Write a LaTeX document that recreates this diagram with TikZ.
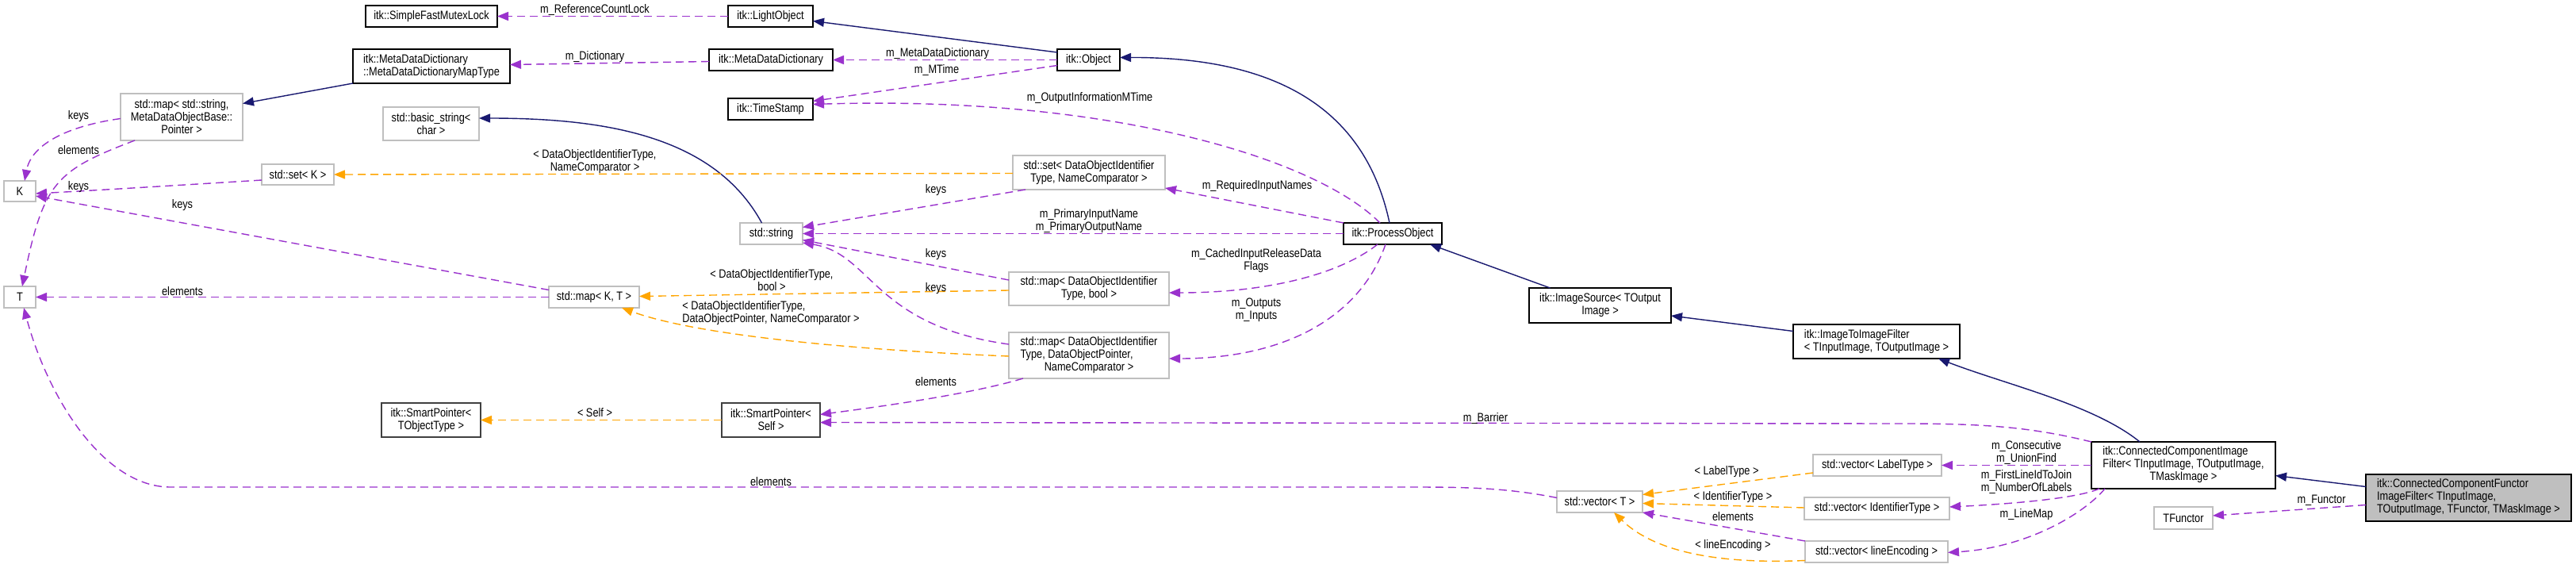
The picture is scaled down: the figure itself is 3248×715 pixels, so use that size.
\documentclass[tikz,border=0pt]{standalone}
\usepackage{fontspec}
\setmainfont{Liberation Sans}[FakeStretch=0.84]
\usetikzlibrary{arrows.meta,calc}
\definecolor{inhblue}{HTML}{191970}
\definecolor{usepurple}{HTML}{9A32CD}
\definecolor{tplorange}{HTML}{FFA500}
\definecolor{graybd}{HTML}{BFBFBF}
\definecolor{darkbd}{HTML}{404040}
\definecolor{hlfill}{HTML}{BFBFBF}
\begin{document}
\begin{tikzpicture}[x=1pt,y=-1pt,
  every node/.style={font=\fontsize{15.2}{16}\selectfont, inner sep=0pt, outer sep=0pt},
  docbox/.style={draw=black, line width=1.4pt, fill=white, rectangle},
  extbox/.style={draw=graybd, line width=1.4pt, fill=white, rectangle},
  spbox/.style={draw=darkbd, line width=1.4pt, fill=white, rectangle},
  hlbox/.style={draw=black, line width=1.4pt, fill=hlfill, rectangle},
  lbl/.style={align=center},
  inhedge/.style={draw=inhblue, line width=1.4pt, -{Triangle[length=14pt,width=11pt]}},
  useedge/.style={draw=usepurple, line width=1.4pt, dash pattern=on 10pt off 6pt, -{Triangle[length=14pt,width=11pt]}},
  tpledge/.style={draw=tplorange, line width=1.4pt, dash pattern=on 10pt off 6pt, -{Triangle[length=14pt,width=11pt]}}
]
\useasboundingbox[fill=white] (0,0) rectangle (3248,715);

% ---------- nodes ----------
\node[docbox, minimum width=166pt, minimum height=27pt] (sfml) at (544,20.5) {itk::SimpleFastMutexLock};
\node[docbox, minimum width=198pt, minimum height=43pt, align=left] (mapType) at (544,83.5) {itk::MetaDataDictionary\\::MetaDataDictionaryMapType};
\node[extbox, minimum width=154pt, minimum height=59pt, align=center] (mapStr) at (229,147.5) {std::map< std::string,\\MetaDataObjectBase::\\Pointer >};
\node[extbox, minimum width=121pt, minimum height=42pt, align=center] (basicStr) at (543.5,156) {std::basic\_string<\\char >};
\node[extbox, minimum width=91pt, minimum height=26pt] (setK) at (375.5,220) {std::set< K >};
\node[extbox, minimum width=40pt, minimum height=26pt] (K) at (25,241) {K};
\node[extbox, minimum width=40pt, minimum height=27pt] (T) at (25,374.5) {T};
\node[spbox, minimum width=125pt, minimum height=43pt, align=center] (spT) at (543.5,529.5) {itk::SmartPointer<\\TObjectType >};
\node[extbox, minimum width=114pt, minimum height=27pt] (mapKT) at (749,374.5) {std::map< K, T >};
\node[docbox, minimum width=107pt, minimum height=27pt] (light) at (971.5,20.5) {itk::LightObject};
\node[docbox, minimum width=156pt, minimum height=27pt] (mdd) at (972,75.5) {itk::MetaDataDictionary};
\node[docbox, minimum width=79pt, minimum height=27pt] (object) at (1372.5,75.5) {itk::Object};
\node[docbox, minimum width=107pt, minimum height=27pt] (timestamp) at (971.5,137.5) {itk::TimeStamp};
\node[extbox, minimum width=79pt, minimum height=27pt] (string) at (972.5,294.5) {std::string};
\node[extbox, minimum width=192pt, minimum height=43pt, align=center] (setDO) at (1373,217.5) {std::set< DataObjectIdentifier\\Type, NameComparator >};
\node[extbox, minimum width=202pt, minimum height=42pt, align=center] (mapBool) at (1373,364) {std::map< DataObjectIdentifier\\Type, bool >};
\node[extbox, minimum width=202pt, minimum height=58pt] (mapPtr) at (1373,448) {\begin{tabular}{@{}l@{}}std::map< DataObjectIdentifier\\Type, DataObjectPointer,\\\multicolumn{1}{@{}c@{}}{NameComparator >}\end{tabular}};
\node[spbox, minimum width=124pt, minimum height=43pt, align=center] (spSelf) at (972,529.5) {itk::SmartPointer<\\Self >};
\node[docbox, minimum width=124pt, minimum height=27pt] (process) at (1756,294.5) {itk::ProcessObject};
\node[docbox, minimum width=179pt, minimum height=44pt, align=center] (imgSrc) at (2017.5,385) {itk::ImageSource< TOutput\\Image >};
\node[extbox, minimum width=108pt, minimum height=27pt] (vecT) at (2017,632.5) {std::vector< T >};
\node[docbox, minimum width=210pt, minimum height=43pt, align=left] (i2i) at (2366,430.5) {itk::ImageToImageFilter\\< TInputImage, TOutputImage >};
\node[docbox, minimum width=232pt, minimum height=59pt] (ccif) at (2753,586.5) {\begin{tabular}{@{}l@{}}itk::ConnectedComponentImage\\Filter< TInputImage, TOutputImage,\\\multicolumn{1}{@{}c@{}}{TMaskImage >}\end{tabular}};
\node[hlbox, minimum width=259pt, minimum height=59pt] (ccfif) at (3112.5,627.5) {\begin{tabular}{@{}l@{}}itk::ConnectedComponentFunctor\\ImageFilter< TInputImage,\\\multicolumn{1}{@{}c@{}}{TOutputImage, TFunctor, TMaskImage >}\end{tabular}};
\node[extbox, minimum width=74pt, minimum height=28pt] (tfunctor) at (2753,653) {TFunctor};
\node[extbox, minimum width=162pt, minimum height=27pt] (vecLabel) at (2367,586.5) {std::vector< LabelType >};
\node[extbox, minimum width=183pt, minimum height=28pt] (vecId) at (2366.5,641) {std::vector< IdentifierType >};
\node[extbox, minimum width=180pt, minimum height=27pt] (vecLine) at (2366,695.5) {std::vector< lineEncoding >};

% ---------- inheritance ----------
\draw[inhedge] ($(object.north west)+(0,4)$) -- ($(light.east)+(0,6)$);
\draw[inhedge] ($(process.north)+(-4,0)$) .. controls (1720,130) and (1600,72) .. ($(object.east)+(0,-3)$);
\draw[inhedge] ($(string.north)+(-12,0)$) .. controls (900,170) and (760,149) .. ($(basicStr.east)+(0,-7)$);
\draw[inhedge] (mapType.south west) -- ($(mapStr.east)+(0,-17)$);
\draw[inhedge] ($(imgSrc.north)+(-63,0)$) -- ($(process.south)+(47,0)$);
\draw[inhedge] ($(i2i.west)+(0,-13)$) -- ($(imgSrc.east)+(0,13)$);
\draw[inhedge] ($(ccif.north)+(-55,0)$) .. controls (2640,510) and (2530,485) .. ($(i2i.south)+(78,0)$);
\draw[inhedge] ($(ccfif.west)+(0,-14)$) -- ($(ccif.east)+(0,13)$);

% ---------- usage ----------
\draw[useedge] (light.west) -- (sfml.east);
\draw[useedge] ($(mdd.west)+(0,2)$) -- ($(mapType.east)+(0,-2)$);
\draw[useedge] (object.west) -- (mdd.east);
\draw[useedge] ($(object.west)+(0,7)$) -- ($(timestamp.east)+(0,-10)$);
\draw[useedge] ($(process.north)+(-16,0)$) .. controls (1660,200) and (1400,120) .. ($(timestamp.east)+(0,-6)$);
\draw[useedge] (process.north west) -- ($(setDO.south east)+(0,-2)$);
\draw[useedge] (process.west) -- (string.east);
\draw[useedge] ($(process.south)+(-19,0)$) .. controls (1690,345) and (1600,369) .. ($(mapBool.east)+(0,5)$);
\draw[useedge] ($(process.south)+(-9,0)$) .. controls (1715,400) and (1620,452) .. ($(mapPtr.east)+(0,4)$);
\draw[useedge] ($(setDO.south west)+(16,0)$) -- ($(string.east)+(0,-8)$);
\draw[useedge] ($(mapBool.west)+(0,-11)$) -- ($(string.east)+(0,8)$);
\draw[useedge] ($(mapPtr.west)+(0,-14)$) .. controls (1100,410) and (1100,320) .. ($(string.south east)+(0,-2)$);
\draw[useedge] ($(mapPtr.south west)+(18,0)$) .. controls (1230,495) and (1130,510) .. ($(spSelf.east)+(0,-7)$);
\draw[useedge] (ccif.north west) .. controls (2560,538) and (2500,534) .. (2400,534) -- ($(spSelf.east)+(0,3)$);
\draw[useedge] ($(vecT.west)+(0,-5)$) .. controls (1900,615) and (1850,614) .. (1780,614) -- (215,614) .. controls (130,614) and (60,500) .. ($(T.south)+(5,0)$);
\draw[useedge] (mapKT.west) -- (T.east);
\draw[useedge] ($(mapKT.west)+(0,-9)$) -- ($(K.east)+(0,6)$);
\draw[useedge] ($(setK.west)+(0,7)$) .. controls (250,232) and (120,240) .. ($(K.east)+(0,3)$);
\draw[useedge] ($(mapStr.west)+(0,2)$) .. controls (90,158) and (40,180) .. ($(K.north)+(6,0)$);
\draw[useedge] ($(mapStr.south west)+(18,0)$) .. controls (70,215) and (55,230) .. ($(T.north)+(3,0)$);
\draw[useedge] (ccif.west) -- (vecLabel.east);
\draw[useedge] ($(ccif.south west)+(10,0)$) .. controls (2620,628) and (2540,635) .. ($(vecId.east)+(0,-2)$);
\draw[useedge] ($(ccif.south west)+(17,0)$) .. controls (2630,645) and (2560,690) .. ($(vecLine.east)+(0,1)$);
\draw[useedge] ($(ccfif.west)+(0,9)$) -- ($(tfunctor.east)+(0,-3)$);
\draw[useedge] (vecLine.north west) -- (vecT.south east);

% ---------- template ----------
\draw[tpledge] ($(setDO.west)+(0,1)$) -- (setK.east);
\draw[tpledge] ($(mapBool.west)+(0,2)$) -- ($(mapKT.east)+(0,-1)$);
\draw[tpledge] ($(mapPtr.west)+(0,1)$) .. controls (1050,440) and (870,420) .. ($(mapKT.south east)+(-22,0)$);
\draw[tpledge] (spSelf.west) -- (spT.east);
\draw[tpledge] ($(vecLabel.south west)+(0,-4)$) -- ($(vecT.east)+(0,-9)$);
\draw[tpledge] ($(vecId.west)+(0,-1)$) -- ($(vecT.east)+(0,2)$);
\draw[tpledge] ($(vecLine.west)+(0,11)$) .. controls (2150,712) and (2080,690) .. ($(vecT.south)+(18,0)$);

% ---------- labels ----------
\node[lbl] (l1) at (750,13) {m\_ReferenceCountLock};
\node[lbl] (l2) at (750,72) {m\_Dictionary};
\node[lbl] (l3) at (1182,68) {m\_MetaDataDictionary};
\node[lbl] (l4) at (1181,89) {m\_MTime};
\node[lbl] (l5) at (1374,124) {m\_OutputInformationMTime};
\node[lbl] (l6) at (750,204) {< DataObjectIdentifierType,\\NameComparator >};
\node[lbl] (l7) at (1180,240) {keys};
\node[lbl] (l8) at (1373,279) {m\_PrimaryInputName\\m\_PrimaryOutputName};
\node[lbl] (l9) at (1180,321) {keys};
\node[lbl] (l10) at (973,353) {< DataObjectIdentifierType,\\bool >};
\node[lbl] (l11) at (1180,364) {keys};
\node[align=left] (l12) at (972,395) {< DataObjectIdentifierType,\\DataObjectPointer, NameComparator >};
\node[lbl] (l13) at (1180,481) {elements};
\node[lbl] (l14) at (750,520) {< Self >};
\node[lbl] (l15) at (972,607) {elements};
\node[lbl] (l16) at (1585,235) {m\_RequiredInputNames};
\node[lbl] (l17) at (1584,329) {m\_CachedInputReleaseData\\Flags};
\node[lbl] (l18) at (1584,391) {m\_Outputs\\m\_Inputs};
\node[lbl] (l19) at (1873,527) {m\_Barrier};
\node[lbl] (l20) at (2177,595) {< LabelType >};
\node[lbl] (l21) at (2185,627) {< IdentifierType >};
\node[lbl] (l22) at (2185,651) {elements};
\node[lbl] (l23) at (2185,688) {< lineEncoding >};
\node[lbl] (l24) at (2555,570) {m\_Consecutive\\m\_UnionFind};
\node[lbl] (l25) at (2555,607) {m\_FirstLineIdToJoin\\m\_NumberOfLabels};
\node[lbl] (l26) at (2555,649) {m\_LineMap};
\node[lbl] (l27) at (2927,631) {m\_Functor};
\node[lbl] (l28) at (99,147) {keys};
\node[lbl] (l29) at (99,189) {elements};
\node[lbl] (l30) at (99,236) {keys};
\node[lbl] (l31) at (230,259) {keys};
\node[lbl] (l32) at (230,367) {elements};
\end{tikzpicture}
\end{document}
